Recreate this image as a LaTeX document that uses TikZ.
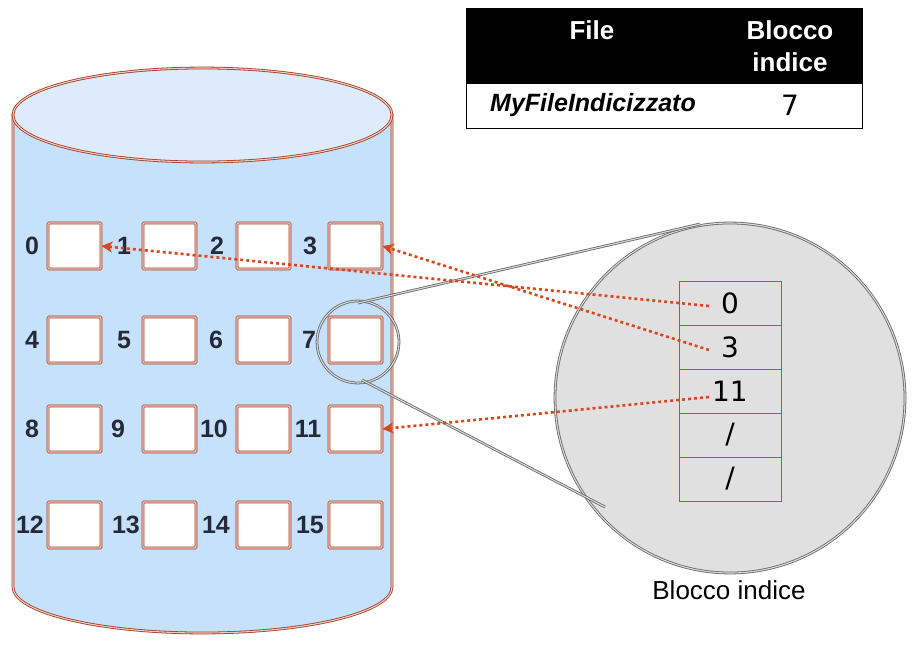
\documentclass[tikz,border=0pt]{standalone}
\usepackage{fontspec}
\setmainfont{Liberation Sans}
\newfontfamily\idxfont{DejaVu Sans}
\usetikzlibrary{arrows.meta}
\definecolor{cylfill}{HTML}{C6E1FC}
\definecolor{cyltop}{HTML}{DDEBFC}
\definecolor{brd}{HTML}{A8381A}
\definecolor{lbl}{HTML}{262A38}
\definecolor{arr}{HTML}{D9471F}
\definecolor{zoomfill}{HTML}{E0E0E0}
\definecolor{zoomline}{HTML}{666666}
\begin{document}
\begin{tikzpicture}[x=1pt,y=-1pt,
  dbl/.style={draw=brd, double=brd!25, line width=0.8pt, double distance=1.1pt},
  gdbl/.style={draw=zoomline, double=zoomline!25, line width=0.8pt, double distance=1.1pt},
  blk/.style={rectangle, dbl, fill=white, minimum width=53pt, minimum height=46pt, inner sep=0pt, rounded corners=1pt},
  num/.style={font=\bfseries\fontsize{25}{25}\selectfont, text=lbl, inner sep=0pt},
  cell/.style={rectangle, draw=arr, line width=0.8pt, minimum width=102pt, minimum height=44pt, inner sep=0pt, font=\idxfont\fontsize{28}{28}\selectfont},
  ptr/.style={draw=arr, line width=2.6pt, dash pattern=on 3pt off 3pt, -{Stealth[length=11pt,width=11pt,inset=3pt]}}
]
\useasboundingbox (0,0) rectangle (914,646);

% cylinder
\path[dbl, fill=cylfill] (13,115) -- (13,587) arc[start angle=180, end angle=0, x radius=189.5, y radius=46] -- (392,115) -- cycle;
\path[dbl, fill=cyltop] (202.5,115) ellipse[x radius=189.5, y radius=47];

% blocks
\foreach \r/\yy in {0/246, 1/340, 2/429, 3/525}{
  \foreach \c/\xx in {0/74.5, 1/169.5, 2/263.5, 3/355.5}{
    \pgfmathtruncatemacro{\k}{4*\r+\c}
    \node[blk] (b\k) at (\xx,\yy) {};
  }
}
% labels
\foreach \t/\xx/\yy in {0/32/246, 1/124/246, 2/217/246, 3/310/246,
  4/32/340, 5/124/340, 6/216/340, 7/309/340,
  8/32/429, 9/118/429, 10/214/429, 11/308/429,
  12/30/525, 13/126/525, 14/216/525, 15/310/525}{
  \node[num] (l\t) at (\xx,\yy) {\t};
}

% zoom circles and tangent lines
\node[circle, gdbl, minimum size=82pt, inner sep=0pt] (zs) at (358,342) {};
\node[circle, gdbl, fill=zoomfill, minimum size=350pt, inner sep=0pt] (zb) at (730,398) {};
\coordinate (t1) at (358,303);
\coordinate (t2) at (700,224);
\coordinate (t3) at (362,380);
\coordinate (t4) at (605,507);
\draw[gdbl] (t1) -- (t2);
\draw[gdbl] (t3) -- (t4);

% index block
\node[cell] (c0) at (730,303) {0};
\node[cell] (c1) at (730,347) {3};
\node[cell] (c2) at (730,391) {11};
\node[cell] (c3) at (730,435) {/};
\node[cell] (c4) at (730,479) {/};
\node[font=\fontsize{26}{26}\selectfont, inner sep=0pt] (cap) at (729,590) {Blocco indice};

% table
\node[rectangle, fill=black, minimum width=396pt, minimum height=76pt, inner sep=0pt, anchor=north west] (th) at (466,8) {};
\node[rectangle, minimum width=396pt, minimum height=44pt, inner sep=0pt, anchor=north west] (tr) at (466,84) {};
\draw[black, line width=0.8pt] (th.north west) -- (tr.south west) -- (tr.south east) -- (th.north east);
\node[text=white, font=\bfseries\fontsize{26}{26}\selectfont, inner sep=0pt] (hf) at (592,30) {File};
\node[text=white, font=\bfseries\fontsize{26}{32}\selectfont, align=center, inner sep=0pt] (hb) at (790,46) {Blocco\\indice};
\node[font=\bfseries\itshape\fontsize{25}{25}\selectfont, inner sep=0pt] (fn) at (593,105) {MyFileIndicizzato};
\node[font=\idxfont\fontsize{28}{28}\selectfont, inner sep=0pt] (fi) at (790,105) {7};

% pointers
\coordinate (s0) at (709,306);
\coordinate (s1) at (709,350);
\coordinate (s2) at (709,397);
\draw[ptr] (s0) -- (b0.east);
\draw[ptr] (s1) -- (b3.east);
\draw[ptr] (s2) -- (b11.east);
\end{tikzpicture}
\end{document}
